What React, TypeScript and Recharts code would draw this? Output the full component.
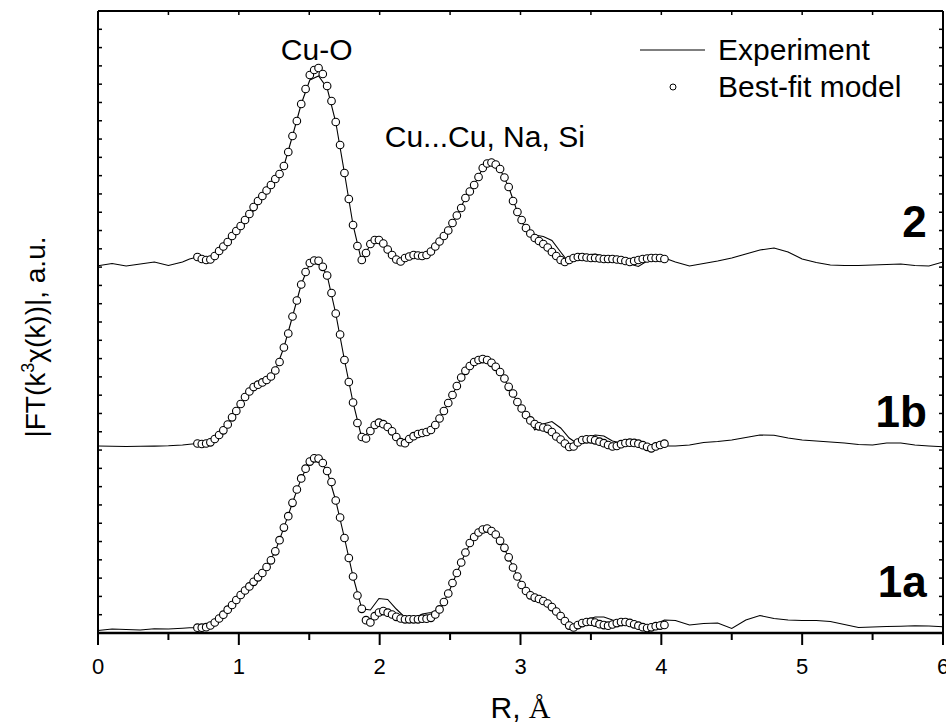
import React from 'react';
import { ComposedChart, Line, Scatter, XAxis, YAxis, Legend, ReferenceDot, Label } from 'recharts';

const FONT = '"Liberation Sans", Arial, Helvetica, sans-serif';
const SERIF = '"Liberation Serif", "Times New Roman", serif';

// R grid of the best-fit model (Å)
const modelR = [
  0.706, 0.737, 0.768, 0.798, 0.829, 0.860, 0.890, 0.921, 0.952, 0.982,
  1.013, 1.044, 1.075, 1.105, 1.136, 1.167, 1.197, 1.228, 1.259, 1.289,
  1.320, 1.351, 1.381, 1.412, 1.443, 1.474, 1.504, 1.535, 1.566, 1.596,
  1.627, 1.658, 1.688, 1.719, 1.750, 1.781, 1.811, 1.842, 1.873, 1.903,
  1.934, 1.965, 1.995, 2.026, 2.057, 2.088, 2.118, 2.149, 2.180, 2.210,
  2.241, 2.272, 2.302, 2.333, 2.364, 2.395, 2.425, 2.456, 2.487, 2.517,
  2.548, 2.579, 2.609, 2.640, 2.671, 2.702, 2.732, 2.763, 2.794, 2.824,
  2.855, 2.886, 2.916, 2.947, 2.978, 3.008, 3.039, 3.070, 3.101, 3.131,
  3.162, 3.193, 3.223, 3.254, 3.285, 3.315, 3.346, 3.377, 3.407, 3.438,
  3.469, 3.500, 3.530, 3.561, 3.592, 3.622, 3.653, 3.684, 3.714, 3.745,
  3.776, 3.807, 3.837, 3.868, 3.899, 3.929, 3.960, 3.991, 4.022,
];

// Best-fit model magnitudes (a.u., above each curve's baseline)
const model2 = [
  8, 6, 5, 5.5, 9, 14, 18.5, 23, 29, 34,
  39, 45, 51, 58, 64, 69, 74.5, 80, 86, 91,
  99, 113, 129, 144, 161, 176, 190, 195, 197, 191,
  179, 164, 143, 120, 92, 66, 40, 19, 5, 12,
  21, 25, 25, 21.5, 15.5, 10, 5.5, 3.5, 7, 8.5,
  10, 9.5, 9, 10, 13.5, 18.5, 23.5, 29, 34.5, 42,
  49.5, 57, 67, 73.5, 80, 88, 97, 101.5, 102.5, 100.5,
  96, 87.5, 78, 64, 53, 45, 37, 31.5, 27, 24,
  21, 17.5, 13, 9, 5, 3, 5, 7, 8, 8,
  7.5, 7, 7, 6.5, 6, 6, 6, 5.5, 5, 4,
  3, 4, 5, 6, 6.5, 7, 7, 7, 6,
];
const model1b = [
  3.5, 3, 3.5, 4.7, 8, 12, 16.7, 22.5, 29.7, 36,
  43, 50, 55.5, 60, 62.3, 64.6, 67, 70.5, 76.5, 85,
  99.5, 113.5, 130.5, 146.5, 162.5, 175, 184, 186.5, 186.2, 180.2,
  171.5, 154, 133.5, 112.5, 87, 65, 44.5, 24, 10, 8.5,
  16, 22, 24.3, 22.8, 20, 15.7, 10, 4.8, 3.8, 8,
  10.8, 13, 14, 15, 17, 22, 28.5, 36, 44, 52,
  61, 69.5, 76.2, 81, 85, 87, 87.9, 87, 84.2, 80.2,
  75, 68.5, 60.2, 53.5, 45, 38.5, 32, 26.6, 23, 20.7,
  19.5, 18.2, 15, 10.5, 7.5, 3.5, 0, 0.5, 4.5, 7,
  7.7, 7.7, 6.7, 5.3, 3.8, 2, 0.5, 1, 2.8, 4,
  4.3, 4.1, 3.3, 1.8, 0.2, -1.3, 0.6, 2, 3.3,
];
const model1a = [
  1.3, 1.3, 1.8, 3.5, 6.5, 10.5, 14.3, 19.3, 24, 29,
  34, 38.5, 42.6, 47.2, 51.7, 56, 62, 68.7, 77.7, 88.8,
  101.4, 112.8, 126.2, 139.5, 150.6, 160.3, 167.4, 170.7, 170.4, 166,
  158, 147, 128.5, 111.5, 91, 71, 52.5, 33.5, 20.2, 8.8,
  6.6, 12.8, 16.5, 17.9, 16.3, 14.5, 12.2, 10.5, 9.7, 9.7,
  9.7, 9.7, 10.3, 10.3, 11.2, 14.5, 19.6, 27, 35.5, 46,
  56, 66.5, 76.5, 86, 92, 96.5, 99.5, 100.4, 98, 94.5,
  88.2, 81.2, 71.7, 61.5, 52.5, 44, 38, 33.7, 31.4, 30,
  28, 25.5, 21.9, 17.5, 13, 8, 3.4, 1.5, 3.9, 5.9,
  7, 7.3, 6.4, 4.8, 3.9, 3.3, 4.5, 5.9, 6.9, 7,
  6.1, 4.7, 3.3, 1.8, 0.9, 1.7, 2.8, 3.4, 4,
];

// R grid of the experimental curves (Å)
const expR = [
  0, 0.1, 0.2, 0.3, 0.4, 0.5, 0.6, 0.65,
  0.706, 0.768, 0.829, 0.890, 0.952, 1.013, 1.075, 1.136, 1.197, 1.259,
  1.320, 1.381, 1.443, 1.504, 1.566, 1.627, 1.688, 1.750, 1.811, 1.873,
  1.934, 1.995, 2.057, 2.118, 2.180, 2.241, 2.302, 2.364, 2.425, 2.487,
  2.548, 2.609, 2.671, 2.732, 2.794, 2.855, 2.916, 2.978, 3.039, 3.101,
  3.162, 3.223, 3.285, 3.346, 3.407, 3.469, 3.530, 3.592, 3.653, 3.714,
  3.776, 3.837, 3.899, 3.960, 4.022,
  4.1, 4.2, 4.3, 4.4, 4.5, 4.6, 4.7, 4.8, 4.9, 5.0,
  5.1, 5.2, 5.3, 5.4, 5.5, 5.6, 5.7, 5.8, 5.9, 6.0,
];

// Experimental magnitudes (a.u., above each curve's baseline)
const exp2 = [
  -0.7, 1.5, -1, 1, 3, -0.5, 3, 6,
  8, 5, 9, 15.5, 26, 36, 48, 61, 72, 84,
  99, 129, 161, 185, 189, 177, 143, 92, 40, 3,
  21, 25, 15.5, 5.5, 7, 10, 9, 13.5, 23.5, 34.5,
  49.5, 67, 80, 97, 102.5, 96, 78, 53, 35, 30,
  28.5, 24.5, 13, 2, 9, 10, 11, 9, 6, 4,
  1, -1.5, 4, 8, 7,
  3, -1, 1.5, 4, 7, 11, 15, 17, 13, 6,
  2.5, 0, -0.5, -0.5, 0, 0.5, 1, -0.5, -1, 3,
];
const exp1b = [
  1, 0.7, 0.5, 0.7, 0.9, 1.2, 2, 2.8,
  3.5, 3.5, 8, 16.7, 29.7, 43, 55.5, 62.3, 67, 76.5,
  99.5, 130.5, 162.5, 184, 186, 171.5, 133.5, 87, 44.5, 9,
  16, 24.3, 20, 10, 3.8, 10.8, 14, 17, 28.5, 44,
  61, 76.2, 85, 87.9, 84.2, 75, 60.2, 45, 33, 17,
  23, 25.5, 19, 9, 3, 9, 12, 11, 6, 4,
  5, 4, 1, 0, 1,
  1, 2, 4.5, 5.5, 7, 9.5, 12, 11.7, 9, 7,
  6, 5, 4, 2.5, 2, 4, 4, 2, 1, 0.3,
];
const exp1a = [
  -1.5, 0, -0.5, -1, 0.3, 0, 0.7, 1.2,
  1.3, 1.8, 6.5, 14.3, 24, 34, 42.6, 51.7, 62, 77.7,
  101.4, 126.2, 150.6, 167.4, 170.4, 158, 128.5, 91, 52.5, 20.2,
  19, 30.5, 29.5, 20, 11.5, 10.5, 15, 16.5, 19.6, 35.5,
  56, 76.5, 92, 99.5, 98, 88.2, 71.7, 52.5, 38, 32,
  30.5, 25.5, 16, 5, 4, 9, 12, 12, 9, 7,
  6.5, 5.5, 2, 5, 9,
  8.5, 4, 5.5, 6, 0.5, 9, 13.5, 10.5, 9, 8.5,
  8.5, 7.5, 4.5, 1.5, 2, 2.5, 2.8, 3.2, 3, 2.3,
];

// vertical offsets of the stacked curves (a.u.)
const offset2 = 368;
const offset1b = 186;
const offset1a = 4;

const xTicks = [0, 0.5, 1, 1.5, 2, 2.5, 3, 3.5, 4, 4.5, 5, 5.5, 6];
const yMax = 622;
const yTickCount = 34;
const yTicks = Array.from({ length: yTickCount + 1 }, (_, i) => (i * yMax) / yTickCount);

const toPoints = (rs: number[], ys: number[], off: number) =>
  rs.map((r, i) => ({ r, y: ys[i] + off }));

const expData2 = toPoints(expR, exp2, offset2);
const expData1b = toPoints(expR, exp1b, offset1b);
const expData1a = toPoints(expR, exp1a, offset1a);
const modelData2 = toPoints(modelR, model2, offset2);
const modelData1b = toPoints(modelR, model1b, offset1b);
const modelData1a = toPoints(modelR, model1a, offset1a);

const BottomTick = (props: any) => {
  const { x, y, payload } = props;
  const v = payload.value as number;
  const major = Number.isInteger(v);
  return (
    <g>
      <line x1={x} x2={x} y1={y} y2={y + (major ? 12 : 7)} stroke="#000" strokeWidth={2} />
      {major && (
        <text x={x} y={y + 41} textAnchor="middle" fontFamily={FONT} fontSize={22} fill="#000">
          {v}
        </text>
      )}
    </g>
  );
};
const TopTick = (props: any) => {
  const { x, y } = props;
  return <line x1={x} x2={x} y1={y} y2={y + 4} stroke="#000" strokeWidth={1.5} />;
};
const LeftTick = (props: any) => {
  const { x, y } = props;
  return <line x1={x} x2={x + 4} y1={y} y2={y} stroke="#000" strokeWidth={1.5} />;
};
const RightTick = (props: any) => {
  const { x, y } = props;
  return <line x1={x} x2={x - 4} y1={y} y2={y} stroke="#000" strokeWidth={1.5} />;
};

const renderXTitle = (props: any) => {
  const { x, y, width } = props.viewBox;
  return (
    <text x={x + width / 2} y={y + 85} textAnchor="middle" fontFamily={FONT} fontSize={30} fill="#000">
      R, <tspan fontFamily={SERIF}>Å</tspan>
    </text>
  );
};
const renderYTitle = (props: any) => {
  const { x, y, width, height } = props.viewBox;
  const cx = x + width - 53;
  const cy = y + height / 2 + 15;
  return (
    <text
      transform={`rotate(-90 ${cx} ${cy})`}
      x={cx}
      y={cy}
      textAnchor="middle"
      fontFamily={FONT}
      fontSize={28}
      fill="#000"
    >
      |FT(k<tspan dy={-11} fontSize={18}>3</tspan>
      <tspan dy={11}>χ(k))|, a.u.</tspan>
    </text>
  );
};

const annot = (text: string, anchor: 'start' | 'middle' | 'end', bold: boolean, size: number) =>
  (props: any) => {
    const { x, y } = props.viewBox;
    return (
      <text x={x} y={y} textAnchor={anchor} fontFamily={FONT} fontSize={size} fontWeight={bold ? 'bold' : 'normal'} fill="#000">
        {text}
      </text>
    );
  };

const renderLegend = () => (
  <svg width={300} height={80} style={{ display: 'block', overflow: 'visible' }}>
    <line x1={12} x2={77} y1={28} y2={28} stroke="#000" strokeWidth={1.2} />
    <text x={90} y={38} fontFamily={FONT} fontSize={30} fill="#000">Experiment</text>
    <circle cx={45} cy={65} r={3} fill="#fff" stroke="#000" strokeWidth={1} />
    <text x={90} y={75} fontFamily={FONT} fontSize={30} fill="#000">Best-fit model</text>
  </svg>
);

const Circle = (props: any) => {
  const { cx, cy } = props;
  return <circle cx={cx} cy={cy} r={3.8} fill="#fff" stroke="#000" strokeWidth={1.1} />;
};

export default function App() {
  return (
    <div style={{ width: 946, height: 725, background: '#fff' }}>
      <style>{'body{margin:0;background:#fff}'}</style>
      <ComposedChart width={946} height={725} margin={{ top: 10, right: 2, bottom: 91, left: 97 }}>
        <XAxis
          xAxisId={0}
          dataKey="r"
          type="number"
          domain={[0, 6]}
          ticks={xTicks}
          interval={0}
          allowDataOverflow
          height={1}
          tickSize={0}
          tickMargin={0}
          tickLine={false}
          tick={<BottomTick />}
          axisLine={{ stroke: '#000', strokeWidth: 2.5 }}
        >
          <Label content={renderXTitle} />
        </XAxis>
        <XAxis
          xAxisId="top"
          orientation="top"
          dataKey="r"
          type="number"
          domain={[0, 6]}
          ticks={xTicks}
          interval={0}
          allowDataOverflow
          height={1}
          tickSize={0}
          tickMargin={0}
          tickLine={false}
          tick={<TopTick />}
          axisLine={{ stroke: '#000', strokeWidth: 2 }}
        />
        <YAxis
          yAxisId={0}
          dataKey="y"
          type="number"
          domain={[0, yMax]}
          ticks={yTicks}
          interval={0}
          allowDataOverflow
          width={1}
          tickSize={0}
          tickMargin={0}
          tickLine={false}
          tick={<LeftTick />}
          axisLine={{ stroke: '#000', strokeWidth: 2 }}
        >
          <Label content={renderYTitle} />
        </YAxis>
        <YAxis
          yAxisId="right"
          orientation="right"
          dataKey="y"
          type="number"
          domain={[0, yMax]}
          ticks={yTicks}
          interval={0}
          allowDataOverflow
          width={1}
          tickSize={0}
          tickMargin={0}
          tickLine={false}
          tick={<RightTick />}
          axisLine={{ stroke: '#000', strokeWidth: 2 }}
        />
        <Legend
          content={renderLegend}
          layout="horizontal"
          verticalAlign="middle"
          align="center"
          wrapperStyle={{ position: 'absolute', left: 628, top: 22, width: 300, height: 80 }}
        />
        <Line data={expData2} dataKey="y" type="linear" stroke="#000" strokeWidth={1.1} dot={false} isAnimationActive={false} />
        <Line data={expData1b} dataKey="y" type="linear" stroke="#000" strokeWidth={1.1} dot={false} isAnimationActive={false} />
        <Line data={expData1a} dataKey="y" type="linear" stroke="#000" strokeWidth={1.1} dot={false} isAnimationActive={false} />
        <Scatter data={modelData2} dataKey="y" shape={<Circle />} isAnimationActive={false} />
        <Scatter data={modelData1b} dataKey="y" shape={<Circle />} isAnimationActive={false} />
        <Scatter data={modelData1a} dataKey="y" shape={<Circle />} isAnimationActive={false} />
        <ReferenceDot x={1.553} y={573} r={0} fill="none" stroke="none" label={annot('Cu-O', 'middle', false, 30)} />
        <ReferenceDot x={2.036} y={486} r={0} fill="none" stroke="none" label={annot('Cu...Cu, Na, Si', 'start', false, 30)} />
        <ReferenceDot x={5.885} y={396} r={0} fill="none" stroke="none" label={annot('2', 'end', true, 44)} />
        <ReferenceDot x={5.885} y={206} r={0} fill="none" stroke="none" label={annot('1b', 'end', true, 44)} />
        <ReferenceDot x={5.885} y={36} r={0} fill="none" stroke="none" label={annot('1a', 'end', true, 44)} />
      </ComposedChart>
    </div>
  );
}
